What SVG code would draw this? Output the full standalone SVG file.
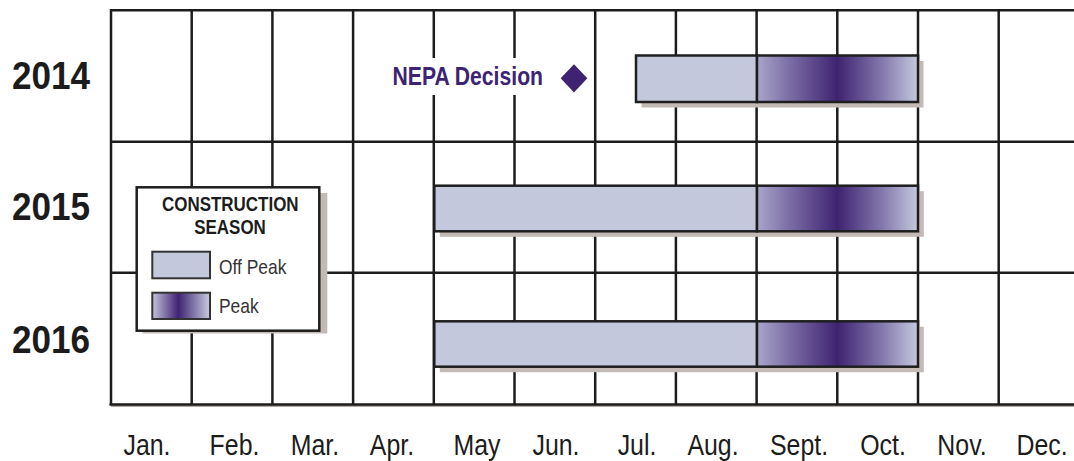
<svg xmlns="http://www.w3.org/2000/svg" width="1074" height="461" viewBox="0 0 1074 461">
  <style>
    .grid { stroke: #1c1c1c; stroke-width: 2.5; fill: none; }
    .shadow { fill: #c4bab5; }
    .off { fill: #c3c8dc; stroke: #1e1e1e; stroke-width: 2.5; }
    .peak { fill: url(#peakGrad); stroke: #1e1e1e; stroke-width: 2.5; }
    .year { font-family: "Liberation Sans", Arial, sans-serif; font-weight: bold; font-size: 39px; fill: #1c1c1c; text-anchor: middle; }
    .month { font-family: "Liberation Sans", Arial, sans-serif; font-size: 30px; fill: #1c1c1c; text-anchor: middle; }
    .lgTitle { font-family: "Liberation Sans", Arial, sans-serif; font-weight: bold; font-size: 19.5px; fill: #1c1c1c; text-anchor: middle; }
    .lgText { font-family: "Liberation Sans", Arial, sans-serif; font-size: 20.5px; fill: #333; }
    .nepa { font-family: "Liberation Sans", Arial, sans-serif; font-weight: bold; font-size: 25.5px; fill: #3d2372; }
  </style>
  <defs>
    <linearGradient id="peakGrad" x1="0" y1="0" x2="1" y2="0">
      <stop offset="0" stop-color="#aaa6ca"/>
      <stop offset="0.2" stop-color="#7b6ea6"/>
      <stop offset="0.5" stop-color="#3f2371"/>
      <stop offset="0.78" stop-color="#8479ad"/>
      <stop offset="1" stop-color="#c5c9de"/>
    </linearGradient>
    <linearGradient id="legendGrad" x1="0" y1="0" x2="1" y2="0">
      <stop offset="0" stop-color="#c4c4dc"/>
      <stop offset="0.45" stop-color="#3f2371"/>
      <stop offset="1" stop-color="#c8cbe0"/>
    </linearGradient>
  </defs>
  <rect x="0" y="0" width="1074" height="461" fill="#ffffff"/>

  <g id="grid">
    <line class="grid" x1="111" y1="10.3" x2="1080" y2="10.3"/>
    <line class="grid" x1="111" y1="141.7" x2="1080" y2="141.7"/>
    <line class="grid" x1="111" y1="272.7" x2="1080" y2="272.7"/>
    <line x1="111" y1="406" x2="1080" y2="406" stroke="#b0aaa6" stroke-width="2"/>
    <line class="grid" x1="109.5" y1="404.6" x2="1080" y2="404.6" stroke-width="3"/>
    <line class="grid" x1="111" y1="9" x2="111" y2="405"/>
    <line class="grid" x1="191.7" y1="9" x2="191.7" y2="405"/>
    <line class="grid" x1="272.4" y1="9" x2="272.4" y2="405"/>
    <line class="grid" x1="353.1" y1="9" x2="353.1" y2="405"/>
    <line class="grid" x1="433.8" y1="9" x2="433.8" y2="405"/>
    <line class="grid" x1="514.5" y1="9" x2="514.5" y2="405"/>
    <line class="grid" x1="595.2" y1="9" x2="595.2" y2="405"/>
    <line class="grid" x1="675.9" y1="9" x2="675.9" y2="405"/>
    <line class="grid" x1="756.6" y1="9" x2="756.6" y2="405"/>
    <line class="grid" x1="837.3" y1="9" x2="837.3" y2="405"/>
    <line class="grid" x1="918" y1="9" x2="918" y2="405"/>
    <line class="grid" x1="998.7" y1="9" x2="998.7" y2="405"/>
  </g>

  <g id="years">
    <text class="year" transform="translate(51,89.3) scale(0.9,1)">2014</text>
    <text class="year" transform="translate(51,220) scale(0.9,1)">2015</text>
    <text class="year" transform="translate(51,353.3) scale(0.9,1)">2016</text>
  </g>

  <g id="months">
    <text class="month" transform="translate(147,455) scale(0.83,1)">Jan.</text>
    <text class="month" transform="translate(234.5,455) scale(0.83,1)">Feb.</text>
    <text class="month" transform="translate(315,455) scale(0.83,1)">Mar.</text>
    <text class="month" transform="translate(392,455) scale(0.83,1)">Apr.</text>
    <text class="month" transform="translate(477,455) scale(0.83,1)">May</text>
    <text class="month" transform="translate(556,455) scale(0.83,1)">Jun.</text>
    <text class="month" transform="translate(637,455) scale(0.83,1)">Jul.</text>
    <text class="month" transform="translate(713,455) scale(0.83,1)">Aug.</text>
    <text class="month" transform="translate(799,455) scale(0.83,1)">Sept.</text>
    <text class="month" transform="translate(883,455) scale(0.83,1)">Oct.</text>
    <text class="month" transform="translate(962,455) scale(0.83,1)">Nov.</text>
    <text class="month" transform="translate(1042,455) scale(0.83,1)">Dec.</text>
  </g>

  <g id="bar-2014">
    <rect class="shadow" x="641.5" y="61" width="282" height="46.5"/>
    <rect class="off" x="636" y="55.5" width="121" height="46.5"/>
    <rect class="peak" x="757" y="55.5" width="161" height="46.5"/>
  </g>
  <g id="bar-2015">
    <rect class="shadow" x="439.8" y="191.2" width="484" height="45.6"/>
    <rect class="off" x="434.3" y="185.7" width="322.7" height="45.6"/>
    <rect class="peak" x="757" y="185.7" width="161" height="45.6"/>
  </g>
  <g id="bar-2016">
    <rect class="shadow" x="439.8" y="326.8" width="484" height="45.4"/>
    <rect class="off" x="434.3" y="321.3" width="322.7" height="45.4"/>
    <rect class="peak" x="757" y="321.3" width="161" height="45.4"/>
  </g>

  <g id="nepa-decision">
    <rect x="388" y="58" width="201" height="37" fill="#ffffff"/>
    <text class="nepa" transform="translate(392.5,85) scale(0.83,1)">NEPA Decision</text>
    <polygon points="574,64.2 587.3,78.3 574,92.4 560.7,78.3" fill="#3f2372"/>
  </g>

  <g id="legend">
    <rect class="shadow" x="142.5" y="193" width="184.8" height="140.5"/>
    <rect x="136.7" y="187.3" width="182.6" height="143.4" fill="#ffffff" stroke="#1e1e1e" stroke-width="2.5"/>
    <text class="lgTitle" transform="translate(230.3,210.7) scale(0.87,1)">CONSTRUCTION</text>
    <text class="lgTitle" transform="translate(230,234) scale(0.87,1)">SEASON</text>
    <rect x="152.3" y="251.7" width="57.7" height="26.6" fill="#c3c8dc" stroke="#333" stroke-width="2"/>
    <text class="lgText" transform="translate(219,274) scale(0.85,1)">Off Peak</text>
    <rect x="152.3" y="292.7" width="57.7" height="26.3" fill="url(#legendGrad)" stroke="#333" stroke-width="2"/>
    <text class="lgText" transform="translate(219,313.3) scale(0.85,1)">Peak</text>
  </g>
</svg>
